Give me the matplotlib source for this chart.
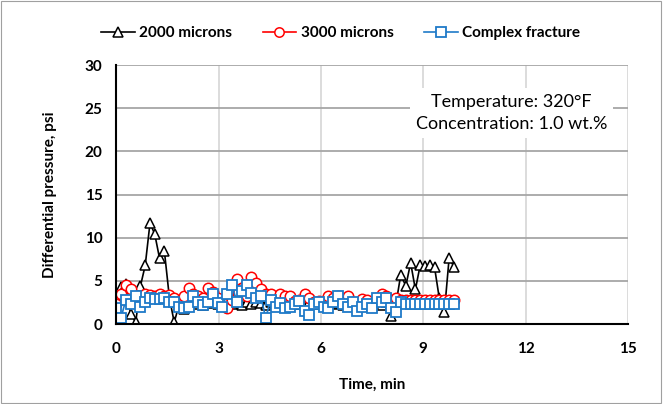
import matplotlib
matplotlib.use("Agg")
from matplotlib import pyplot as plt
import matplotlib.patches as mpatches

plt.rcParams["font.family"] = ["Lato", "DejaVu Sans"]

# time base, min
time_min = [0.00, 0.14, 0.28, 0.42, 0.57, 0.71, 0.85, 0.99, 1.13, 1.27, 1.41,
            1.56, 1.70, 1.84, 1.98, 2.12, 2.26, 2.40, 2.55, 2.69, 2.83, 2.97,
            3.11, 3.25, 3.39, 3.54, 3.68, 3.82, 3.96, 4.10, 4.24, 4.38, 4.53,
            4.67, 4.81, 4.95, 5.09, 5.23, 5.37, 5.52, 5.66, 5.80, 5.94, 6.08,
            6.22, 6.36, 6.51, 6.65, 6.79, 6.93, 7.07, 7.21, 7.35, 7.50, 7.64,
            7.78, 7.92, 8.06, 8.20, 8.34, 8.49, 8.63, 8.77, 8.91, 9.05, 9.19,
            9.33, 9.47, 9.62, 9.76, 9.90]

dp_2000 = [0.8, 4.3, 4.6, 1.2, 0.2, 4.4, 6.8, 11.7, 10.4, 7.6, 8.5,
           3.0, 0.2, 2.2, 1.7, 2.4, 2.5, 2.3, 2.2, 2.4, 2.6, 2.3,
           2.2, 2.5, 2.3, 2.6, 2.2, 2.5, 2.3, 2.6, 2.4, 2.2, 2.5,
           2.3, 2.4, 2.2, 2.5, 2.3, 2.4, 2.2, 2.5, 2.3, 2.4, 2.2,
           2.5, 2.3, 2.4, 2.2, 2.5, 2.3, 2.4, 2.2, 2.5, 2.3, 2.4,
           2.2, 2.5, 0.9, 2.3, 5.7, 4.4, 7.1, 4.0, 6.8, 6.7, 6.8,
           6.6, 3.0, 1.4, 7.7, 6.6]

dp_3000 = [2.3, 3.5, 4.5, 4.0, 3.0, 3.2, 3.5, 3.4, 3.3, 3.5, 3.3,
           3.4, 3.0, 2.7, 3.2, 4.2, 3.5, 3.2, 3.0, 4.2, 3.7, 3.0,
           2.6, 1.9, 2.8, 5.2, 4.2, 3.3, 5.5, 4.8, 4.0, 3.5, 3.5,
           2.5, 3.5, 3.3, 3.2, 2.7, 2.8, 3.5, 3.0, 2.6, 2.7, 2.7,
           3.3, 3.0, 3.2, 2.8, 3.3, 2.6, 2.4, 2.9, 2.8, 2.3, 3.0,
           3.5, 3.3, 2.5, 3.0, 2.8, 2.8, 2.8, 2.8, 2.8, 2.8, 2.8,
           2.8, 2.8, 2.8, 2.8, 2.8]

dp_complex = [1.8, 0.7, 2.8, 2.3, 3.3, 2.0, 2.6, 3.0, 2.9, 2.9, 3.0,
              2.6, 2.5, 2.0, 1.8, 2.0, 3.3, 2.5, 2.2, 2.5, 3.5, 2.4,
              2.0, 3.5, 4.5, 2.5, 3.8, 4.5, 3.6, 3.0, 3.2, 0.7, 2.8,
              2.0, 2.4, 1.8, 2.0, 2.3, 2.7, 1.5, 1.0, 2.3, 2.6, 2.0,
              1.8, 2.6, 3.2, 2.3, 2.0, 2.5, 1.5, 2.0, 2.3, 1.8, 3.0,
              2.5, 3.0, 1.8, 1.4, 2.5, 2.3, 2.3, 2.3, 2.3, 2.3, 2.3,
              2.3, 2.3, 2.3, 2.3, 2.3]

x_ticks = [0, 3, 6, 9, 12, 15]
y_ticks = [0, 5, 10, 15, 20, 25, 30]

fig = plt.figure(figsize=(6.68, 4.04), dpi=100)
fig.patches.append(mpatches.Rectangle((0.002, 0.003), 0.988, 0.994, transform=fig.transFigure,
                                      fill=False, edgecolor="#a0a0a0", linewidth=0.8))
ax = fig.add_axes([0.174, 0.198, 0.766, 0.641])

ax.plot(time_min, dp_2000, color="black", lw=1.2, marker="^", ms=7.5,
        mfc="white", mec="black", mew=1.1, label="2000 microns")
ax.plot(time_min, dp_3000, color="#ff0000", lw=1.2, marker="o", ms=7.5,
        mfc="white", mec="#ff0000", mew=1.1, label="3000 microns")
ax.plot(time_min, dp_complex, color="#1f7ac8", lw=1.2, marker="s", ms=7.5,
        mfc="white", mec="#1f7ac8", mew=1.3, label="Complex fracture")

ax.set_xlim(0, 15)
ax.set_ylim(0, 30)
ax.set_xticks(x_ticks)
ax.set_yticks(y_ticks)
ax.tick_params(axis="y", length=0, labelsize=11, pad=10)
ax.tick_params(axis="x", length=0, labelsize=11, pad=13)
for lab in ax.get_xticklabels() + ax.get_yticklabels():
    lab.set_fontweight("bold")

ax.yaxis.grid(True, color="#a6a6a6", lw=1.3)
ax.xaxis.grid(True, color="#d9d9d9", lw=1.3)
ax.set_axisbelow(True)
for s in ["top", "right"]:
    ax.spines[s].set_visible(False)
ax.spines["left"].set_linewidth(1.5)
ax.spines["bottom"].set_linewidth(1.5)

ax.set_xlabel("Time, min", fontsize=11, fontweight="bold", labelpad=16)
ax.set_ylabel("Differential pressure, psi", fontsize=11, fontweight="bold", labelpad=20)

ax.text(0.772, 0.815, "Temperature: 320°F\nConcentration: 1.0 wt.%", transform=ax.transAxes,
        ha="center", va="center", fontsize=13, linespacing=1.5,
        bbox=dict(facecolor="white", edgecolor="none", pad=4))

fig.legend(loc="center", bbox_to_anchor=(0.51, 0.918), ncol=3, frameon=False,
           handlelength=2.2, columnspacing=2.0, handletextpad=0.3,
           prop={"weight": "bold", "size": 11}, markerscale=0.9)

fig.savefig("out.png", dpi=100)
